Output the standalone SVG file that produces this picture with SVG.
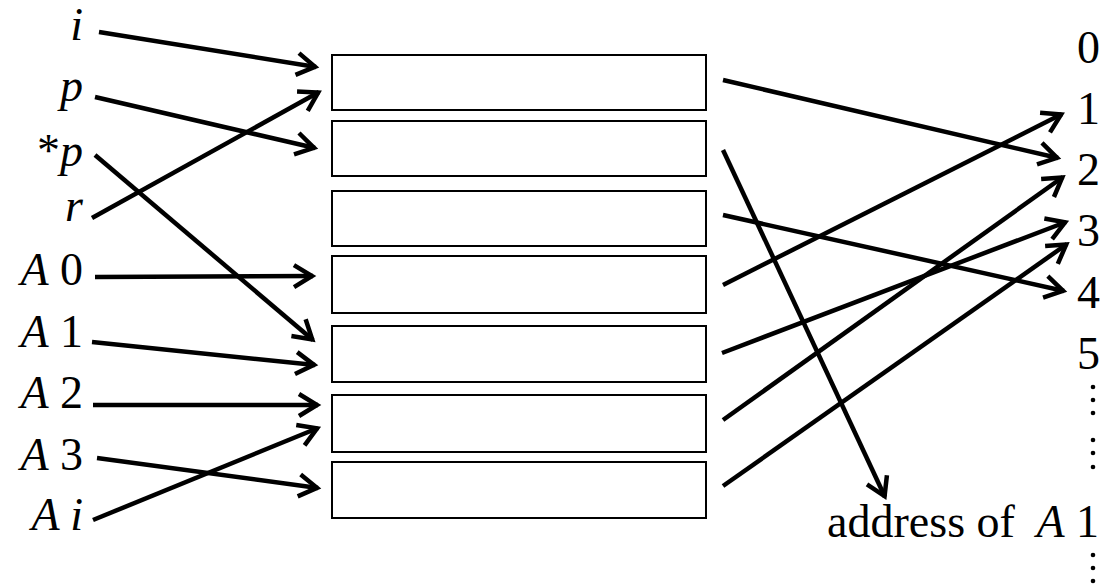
<svg xmlns="http://www.w3.org/2000/svg" width="1108" height="588" viewBox="0 0 1108 588">
<style>
.box{fill:#fff;stroke:#000;stroke-width:2}
.lbl{font-family:"Liberation Serif","Times New Roman",serif;font-size:46px;fill:#000}
.it{font-style:italic}
.con line{stroke:#000;stroke-width:4.5;fill:none;marker-end:url(#ah)}
</style>
<defs>
<marker id="ah" markerUnits="userSpaceOnUse" markerWidth="40" markerHeight="40" viewBox="-30 -20 40 40" refX="0" refY="0" orient="auto" overflow="visible">
<path d="M-19,-11 L-1,0 L-19,11" fill="none" stroke="#000" stroke-width="4.5"/>
</marker>
</defs>
<rect width="1108" height="588" fill="#fff"/>
<g id="cells">
<rect id="cell1" class="box" x="332" y="55" width="374" height="55"/>
<rect id="cell2" class="box" x="332" y="121" width="374" height="55"/>
<rect id="cell3" class="box" x="332" y="191" width="374" height="55"/>
<rect id="cell4" class="box" x="332" y="256" width="374" height="57"/>
<rect id="cell5" class="box" x="332" y="326" width="374" height="56"/>
<rect id="cell6" class="box" x="332" y="395" width="374" height="57"/>
<rect id="cell7" class="box" x="332" y="462" width="374" height="56"/>
</g>
<g id="left-labels" class="lbl" text-anchor="end">
<text id="lbl-i" x="83" y="40" class="it">i</text>
<text id="lbl-p" x="83" y="101" class="it">p</text>
<text id="lbl-sp" x="83" y="166"><tspan>*</tspan><tspan class="it">p</tspan></text>
<text id="lbl-r" x="83" y="221" class="it">r</text>
<text id="lbl-a0" x="83" y="285"><tspan class="it">A</tspan> 0</text>
<text id="lbl-a1" x="83" y="347"><tspan class="it">A</tspan> 1</text>
<text id="lbl-a2" x="83" y="408"><tspan class="it">A</tspan> 2</text>
<text id="lbl-a3" x="83" y="470"><tspan class="it">A</tspan> 3</text>
<text id="lbl-ai" x="83" y="530" class="it">A i</text>
</g>
<g id="addresses" class="lbl">
<text id="addr0" x="1077" y="63">0</text>
<text id="addr1" x="1077" y="124">1</text>
<text id="addr2" x="1077" y="185">2</text>
<text id="addr3" x="1077" y="246">3</text>
<text id="addr4" x="1077" y="308">4</text>
<text id="addr5" x="1077" y="369">5</text>
<text id="addrA1" x="1099" y="537" text-anchor="end">address of <tspan class="it" dx="10">A</tspan> 1</text>
</g>
<g id="dots" fill="#000">
<circle cx="1093" cy="387" r="2.3"/><circle cx="1093" cy="400" r="2.3"/><circle cx="1093" cy="413" r="2.3"/>
<circle cx="1093" cy="440" r="2.3"/><circle cx="1093" cy="453" r="2.3"/><circle cx="1093" cy="467" r="2.3"/>
<circle cx="1093" cy="555" r="2.3"/><circle cx="1093" cy="568" r="2.3"/><circle cx="1093" cy="581" r="2.3"/>
</g>
<g id="connectors" class="con">
<line x1="99" y1="32" x2="316" y2="67"/>
<line x1="95" y1="97" x2="315" y2="148"/>
<line x1="95" y1="155" x2="313" y2="340"/>
<line x1="92" y1="218" x2="319" y2="92"/>
<line x1="95" y1="277" x2="313" y2="276"/>
<line x1="92" y1="342" x2="315" y2="365"/>
<line x1="93" y1="405" x2="318" y2="405"/>
<line x1="97" y1="458" x2="318" y2="488"/>
<line x1="93" y1="520" x2="318" y2="428"/>
<line x1="723" y1="80" x2="1058" y2="158"/>
<line x1="723" y1="150" x2="885" y2="497"/>
<line x1="723" y1="215" x2="1064" y2="291"/>
<line x1="723" y1="285" x2="1062" y2="114"/>
<line x1="722" y1="353" x2="1066" y2="222"/>
<line x1="723" y1="420" x2="1063" y2="177"/>
<line x1="723" y1="486" x2="1067" y2="244"/>
</g>
</svg>
